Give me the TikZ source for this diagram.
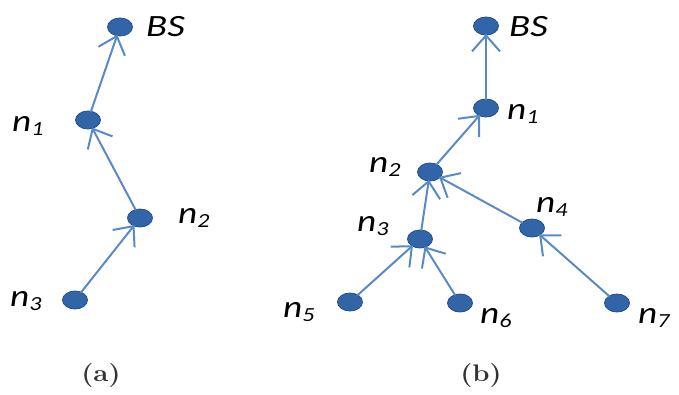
\documentclass[tikz,border=0pt]{standalone}
\usepackage{fontspec}
\setmainfont{Latin Modern Roman}
\newfontfamily\lblfont{Carlito}
\usetikzlibrary{arrows.meta,shapes.geometric}
\definecolor{nodefill}{HTML}{3165A8}
\definecolor{nodeedge}{HTML}{24508A}
\definecolor{linkcol}{HTML}{5A8AC6}
\definecolor{capcol}{HTML}{333333}
\newcommand{\nlab}[1]{\scalebox{1.2}[1]{\lblfont\itshape n\raisebox{-0.13em}{\fontsize{20}{22}\selectfont #1}}}
\newcommand{\bslab}{\scalebox{1.25}[1]{\lblfont\itshape BS}}
\newcommand{\caplab}[1]{\scalebox{1.15}[1]{\fontsize{24}{27}\selectfont\bfseries (#1)}}
\begin{document}
\begin{tikzpicture}[x=1pt,y=-1pt,
  sensor/.style={ellipse,fill=nodefill,draw=nodeedge,line width=0.8pt,minimum width=25pt,minimum height=18pt,inner sep=0pt},
  lbl/.style={inner sep=0pt,font=\fontsize{31}{34}\selectfont},
  caption/.style={inner sep=0pt,text=capcol},
  link/.style={draw=linkcol,line width=2pt,-{Straight Barb[length=16pt,width=28pt,line width=2pt]},shorten <=-1pt,shorten >=-1.5pt}]
\useasboundingbox (0,0) rectangle (679,394);
% panel (a)
\node[sensor] (aBS) at (120,27) {};
\node[sensor] (a1) at (88,120) {};
\node[sensor] (a2) at (140,218) {};
\node[sensor] (a3) at (75,300) {};
\node[lbl,anchor=west] (laBS) at (146,27) {\bslab};
\node[lbl,anchor=west] (la1) at (12,126) {\nlab{1}};
\node[lbl,anchor=west] (la2) at (178,218) {\nlab{2}};
\node[lbl,anchor=west] (la3) at (10,301) {\nlab{3}};
\draw[link] (a3) -- (a2);
\draw[link] (a2) -- (a1);
\draw[link] (a1) -- (aBS);
\node[caption] (capa) at (101,376) {\caplab{a}};
% panel (b)
\node[sensor] (bBS) at (486,26) {};
\node[sensor] (b1) at (486,108) {};
\node[sensor] (b2) at (430,172) {};
\node[sensor] (b3) at (420,239) {};
\node[sensor] (b4) at (532,228) {};
\node[sensor] (b5) at (350,302) {};
\node[sensor] (b6) at (460,303) {};
\node[sensor] (b7) at (617,303) {};
\node[lbl,anchor=west] (lbBS) at (509,27) {\bslab};
\node[lbl,anchor=west] (lb1) at (507,114) {\nlab{1}};
\node[lbl,anchor=west] (lb2) at (369,167) {\nlab{2}};
\node[lbl,anchor=west] (lb3) at (357,226) {\nlab{3}};
\node[lbl,anchor=west] (lb4) at (536,207) {\nlab{4}};
\node[lbl,anchor=west] (lb5) at (283,312) {\nlab{5}};
\node[lbl,anchor=west] (lb6) at (480,318) {\nlab{6}};
\node[lbl,anchor=west] (lb7) at (638,318) {\nlab{7}};
\draw[link] (b1) -- (bBS);
\draw[link] (b2) -- (b1);
\draw[link] (b3) -- (b2);
\draw[link] (b4) -- (b2);
\draw[link] (b5) -- (b3);
\draw[link] (b6) -- (b3);
\draw[link] (b7) -- (b4);
\node[caption] (capb) at (481,376) {\caplab{b}};
\end{tikzpicture}
\end{document}
